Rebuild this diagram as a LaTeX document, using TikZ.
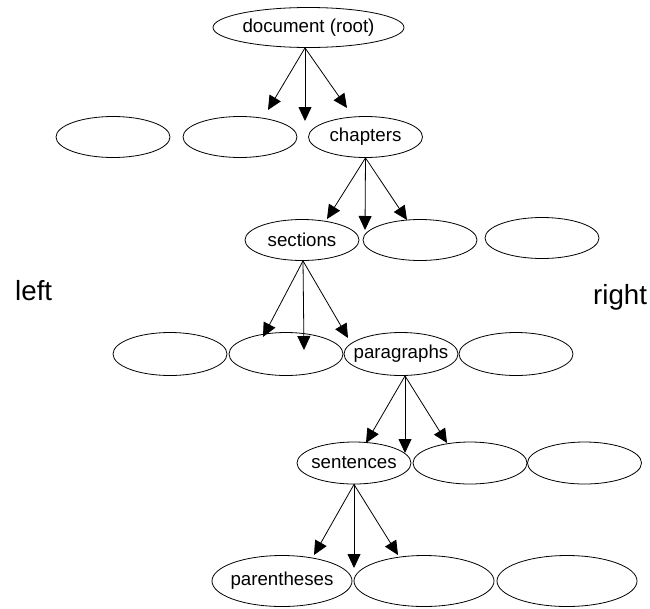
\documentclass[tikz,border=0pt]{standalone}
\usepackage{fontspec}
\setmainfont{Liberation Sans}
\usetikzlibrary{shapes.geometric,arrows.meta}
\begin{document}
\begin{tikzpicture}[x=1pt,y=-1pt,
  ov/.style={draw, ellipse, inner sep=0pt, minimum width=114pt, minimum height=41pt, line width=0.8pt, font=\fontsize{18.7}{20}\selectfont},
  big/.style={minimum width=140pt, minimum height=51pt},
  arr/.style={-{Triangle[length=14pt,width=13pt]}, line width=0.8pt},
  side/.style={font=\fontsize{27.7}{30}\selectfont, inner sep=0pt, anchor=base west}]
\useasboundingbox (0,0) rectangle (650,608);
% row 1
\node[ov, minimum width=191pt, minimum height=40pt] (root) at (308.5,27.5) {\makebox[0pt]{document (root)}};
% row 2
\node[ov] (a1) at (113,137) {};
\node[ov] (a2) at (240,137) {};
\node[ov] (chap) at (365.5,137) {\makebox[0pt]{chapters}};
% row 3
\node[ov] (sec) at (302,240) {\makebox[0pt]{sections}};
\node[ov] (b2) at (420,240) {};
\node[ov] (b3) at (542,238) {};
% row 4
\node[ov, minimum height=43pt] (c1) at (170,354) {};
\node[ov, minimum height=43pt] (c2) at (286,354) {};
\node[ov, minimum height=43pt] (par) at (401,354) {\makebox[0pt]{paragraphs}};
\node[ov, minimum height=43pt] (c4) at (516,354) {};
% row 5
\node[ov, minimum height=42pt] (sen) at (354,463) {\makebox[0pt]{sentences}};
\node[ov, minimum height=42pt] (d2) at (470,463) {};
\node[ov, minimum height=42pt] (d3) at (584.5,463) {};
% row 6
\node[ov, big] (pth) at (282,581) {\makebox[0pt]{parentheses}};
\node[ov, big] (e2) at (424,581) {};
\node[ov, big] (e3) at (567,581) {};
% side labels
\node[side] (lft) at (15,300) {left};
\node[side] (rgt) at (593,304) {right};
% arrow tips
\coordinate (r1) at (268,110);
\coordinate (r2) at (305,121);
\coordinate (r3) at (347,108);
\coordinate (h1) at (327,219);
\coordinate (h2) at (365,230);
\coordinate (h3) at (407,220);
\coordinate (s1) at (263,337);
\coordinate (s2) at (304,350);
\coordinate (s3) at (348,338);
\coordinate (p1) at (366,443);
\coordinate (p2) at (405,453);
\coordinate (p3) at (447,443);
\coordinate (t1) at (314,555);
\coordinate (t2) at (354,568);
\coordinate (t3) at (398,555);
% arrows
\foreach \k in {r1,r2,r3} \draw[arr] ([xshift=-3.5pt]root.south) -- (\k);
\foreach \k in {h1,h2,h3} \draw[arr] (chap.south) -- (\k);
\foreach \k in {s1,s2,s3} \draw[arr] ([xshift=1pt]sec.south) -- (\k);
\foreach \k in {p1,p2,p3} \draw[arr] ([xshift=4pt]par.south) -- (\k);
\foreach \k in {t1,t2,t3} \draw[arr] (sen.south) -- (\k);
\end{tikzpicture}
\end{document}
